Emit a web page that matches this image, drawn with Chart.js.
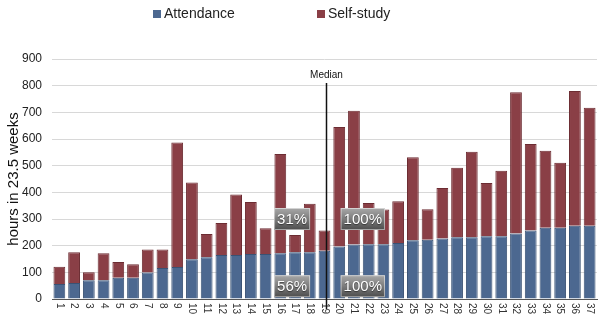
<!DOCTYPE html>
<html>
<head>
<meta charset="utf-8">
<script src="https://cdn.jsdelivr.net/npm/chart.js@4"></script>
<style>
  html, body { margin: 0; padding: 0; background: #fff; }
  #wrap { width: 600px; height: 324px; }
</style>
</head>
<body>
<div id="wrap"><canvas id="hoursChart" width="600" height="324"></canvas></div>
<script>
// hours per student over 23.5 weeks, sorted by attendance
const students = [
  "1", "2", "3", "4", "5", "6", "7", "8", "9", "10", "11", "12", "13",
  "14", "15", "16", "17", "18", "19", "20", "21", "22", "23", "24", "25",
  "26", "27", "28", "29", "30", "31", "32", "33", "34", "35", "36", "37"
];
const attendance = [
  56, 60, 70, 70, 80, 80, 99, 116, 120, 149, 157, 165, 165,
  169, 169, 172, 175, 175, 181, 197, 204, 205, 205, 210, 220,
  222, 227, 232, 232, 235, 235, 246, 257, 267, 267, 275, 275
];
const selfStudy = [
  65, 115, 30, 102, 59, 50, 87, 70, 467, 288, 87, 120, 227,
  195, 96, 372, 65, 182, 76, 448, 502, 155, 131, 157, 312,
  115, 189, 260, 320, 200, 246, 529, 324, 289, 244, 505, 442
];
const yTicks = [0, 100, 200, 300, 400, 500, 600, 700, 800, 900];

// share labels: [text, category position, hours]
const shareNotes = [
  ["31%", 15.8, 300],
  ["100%", 20.6, 300],
  ["56%", 15.8, 48],
  ["100%", 20.6, 48]
];
const medianIndex = 18;
const medianTop = 810;

const FONT = "'Liberation Sans', Arial, sans-serif";
const BLUE = "#4c6890";
const RED = "#8a3f46";

const overlay = {
  id: "overlay",
  afterDatasetsDraw(chart) {
    const { ctx, scales: { x, y } } = chart;

    // rotated category labels
    ctx.save();
    ctx.fillStyle = "#333";
    ctx.font = "10px " + FONT;
    ctx.textAlign = "left";
    ctx.textBaseline = "middle";
    students.forEach((s, i) => {
      ctx.save();
      ctx.translate(x.getPixelForValue(i), y.bottom + 4);
      ctx.rotate(Math.PI / 2);
      ctx.fillText(s, 0, 0);
      ctx.restore();
    });
    ctx.restore();

    // median marker
    const mx = Math.round(x.getPixelForValue(medianIndex)) + 1.5;
    const my = y.getPixelForValue(medianTop);
    ctx.save();
    ctx.strokeStyle = "#111";
    ctx.lineWidth = 1.5;
    ctx.beginPath();
    ctx.moveTo(mx, my);
    ctx.lineTo(mx, y.bottom + 10);
    ctx.stroke();
    ctx.fillStyle = "#111";
    ctx.font = "10px " + FONT;
    ctx.textAlign = "center";
    ctx.textBaseline = "bottom";
    ctx.fillText("Median", mx, my - 3);
    ctx.restore();

    // share boxes
    ctx.save();
    ctx.font = "15px " + FONT;
    ctx.textAlign = "center";
    ctx.textBaseline = "middle";
    shareNotes.forEach(([text, pos, val]) => {
      const cx = x.getPixelForValue(pos);
      const cy = y.getPixelForValue(val);
      const w = ctx.measureText(text).width + 6;
      const h = 22;
      const g = ctx.createLinearGradient(0, cy - h / 2, 0, cy + h / 2);
      g.addColorStop(0, "#a8a8a8");
      g.addColorStop(0.5, "#7c7c7c");
      g.addColorStop(1, "#4c4c4c");
      ctx.fillStyle = g;
      ctx.fillRect(cx - w / 2, cy - h / 2, w, h);
      ctx.strokeStyle = "rgba(255,255,255,0.5)";
      ctx.lineWidth = 1;
      ctx.strokeRect(cx - w / 2 + 0.5, cy - h / 2 + 0.5, w - 1, h - 1);
      ctx.fillStyle = "#fff";
      ctx.shadowColor = "rgba(0,0,0,0.5)";
      ctx.shadowOffsetY = 1;
      ctx.shadowBlur = 1;
      ctx.fillText(text, cx, cy + 1);
      ctx.shadowColor = "transparent";
    });
    ctx.restore();

    // legend
    ctx.save();
    ctx.font = "14px " + FONT;
    ctx.textBaseline = "middle";
    ctx.textAlign = "left";
    const items = [[chart.data.datasets[0], 153], [chart.data.datasets[1], 317]];
    items.forEach(([ds, lx]) => {
      ctx.fillStyle = ds.backgroundColor;
      ctx.fillRect(lx, 10, 8, 8);
      ctx.fillStyle = "#222";
      ctx.fillText(ds.label, lx + 11, 14);
    });
    ctx.restore();
  }
};

new Chart(document.getElementById("hoursChart"), {
  type: "bar",
  data: {
    labels: students,
    datasets: [
      {
        label: "Attendance",
        data: attendance,
        backgroundColor: BLUE,
        borderColor: "#3a5274",
        borderWidth: 1,
        barPercentage: 0.8,
        categoryPercentage: 1.0,
      },
      {
        label: "Self-study",
        data: selfStudy,
        backgroundColor: RED,
        borderColor: "#6c2c32",
        borderWidth: 1,
        barPercentage: 0.8,
        categoryPercentage: 1.0,
      },
    ],
  },
  plugins: [overlay],
  options: {
    responsive: false,
    animation: false,
    layout: { padding: { top: 59, right: 3, left: 0, bottom: 0 } },
    plugins: {
      legend: { display: false },
      tooltip: { enabled: false },
    },
    scales: {
      x: {
        stacked: true,
        grid: { display: false },
        border: { color: "#555", width: 1 },
        ticks: { display: false },
        afterFit(scale) { scale.height = 25; },
      },
      y: {
        stacked: true,
        min: 0,
        max: 900,
        afterBuildTicks(scale) {
          scale.ticks = yTicks.map((v) => ({ value: v }));
        },
        afterFit(scale) { scale.width = 52; },
        grid: { color: "#d8d8d8", lineWidth: 1, drawTicks: false },
        border: { display: false },
        ticks: {
          color: "#222",
          font: { family: FONT, size: 12 },
          padding: 10,
        },
        title: {
          display: true,
          text: "hours in 23.5 weeks",
          color: "#111",
          font: { family: FONT, size: 15 },
          padding: { top: 5, bottom: 0 },
        },
      },
    },
  },
});
</script>
</body>
</html>
